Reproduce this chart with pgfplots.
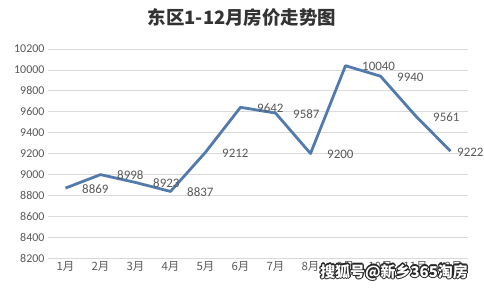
\documentclass[border=0pt]{standalone}
\usepackage{pgfplots}
\pgfplotsset{compat=1.18}
\usepackage{pgfplotstable}
\usepackage{fontspec}
\setmainfont{Carlito}
\newfontfamily\cjk{Noto Sans CJK SC}

\definecolor{lineblue}{RGB}{82,122,172}
\definecolor{txt}{RGB}{89,89,89}

% month, price, label offset
\pgfplotstableread{
m  v     dx
1  8869  12
2  8998  12
3  8923  13
4  8837  12
5  9212  12
6  9642  12
7  9587  13
8  9200  12
9  10040 12
10 9940  12
11 9561  13
12 9222  2
}\prices

\begin{document}
\begin{tikzpicture}[x=1bp,y=1bp]
\useasboundingbox (0,0) rectangle (484,290);
\node[font=\cjk\bfseries\fontsize{18.5}{20}\selectfont, text=black!80] at (242,272) {东区1-12月房价走势图};

\begin{axis}[
    at={(48bp,32bp)}, anchor=south west,
    scale only axis, width=420bp, height=209bp,
    xmin=0.5, xmax=12.5, ymin=8200, ymax=10200,
    xtick={1,...,12},
    xticklabels={1月,2月,3月,4月,5月,6月,7月,8月,9月,10月,11月,12月},
    xticklabel style={font=\cjk\fontsize{11.5}{12}\selectfont, text=txt},
    ytick distance=200,
    scaled y ticks=false,
    yticklabel style={font=\fontsize{12}{13}\selectfont, text=txt},
    /pgf/number format/assume math mode=true,
    /pgf/number format/1000 sep={},
    axis line style={draw=none},
    tick style={draw=none},
    ymajorgrids,
    major grid style={draw=black!15, line width=0.8bp},
    nodes near coords,
    visualization depends on={\thisrow{dx}\as\dx},
    nodes near coords style={anchor=west, xshift=\dx bp, yshift=-1bp,
        font=\fontsize{13}{14}\selectfont, text=txt},
    clip=false,
]
\addplot[lineblue, line width=2.8bp, line join=round, mark=none] table[x=m, y=v] {\prices};
\end{axis}

% watermark, white letters with a dark outline
\foreach \a in {0,30,...,330}
  \node[font=\cjk\bfseries\fontsize{15}{16}\selectfont, text=black!85, shift={(\a:1.1bp)}] at (394,18) {搜狐号@新乡365淘房};
\node[font=\cjk\bfseries\fontsize{15}{16}\selectfont, text=white] at (394,18) {搜狐号@新乡365淘房};
\end{tikzpicture}
\end{document}
